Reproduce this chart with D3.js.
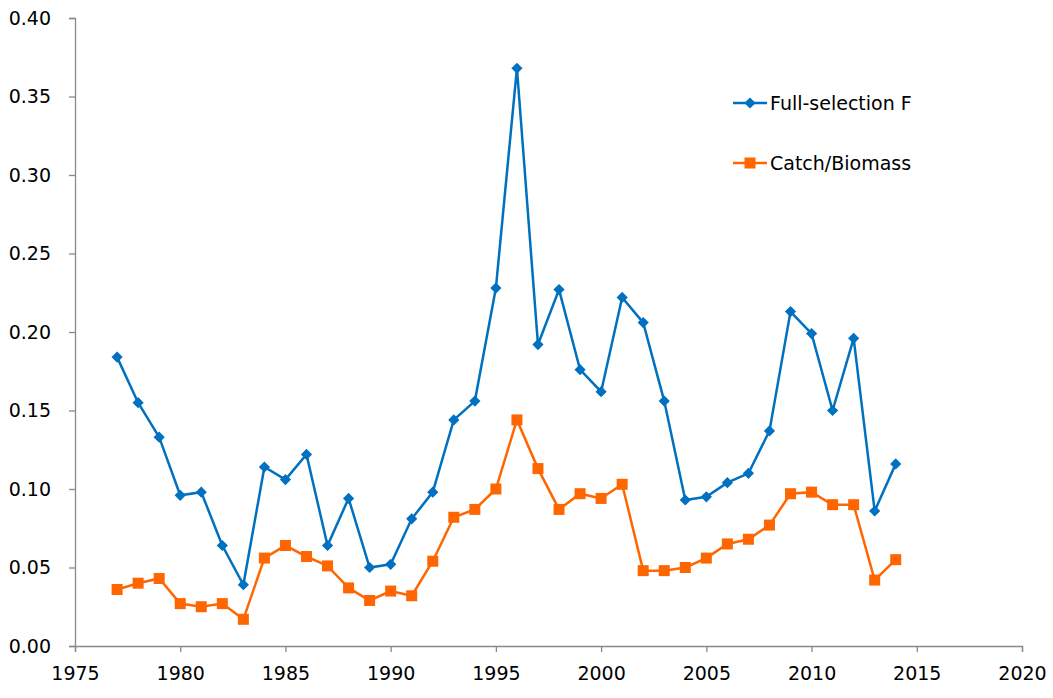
<!doctype html>
<html lang="en">
<head>
  <meta charset="utf-8">
  <title>Full-selection F and Catch/Biomass</title>
  <script src="https://cdnjs.cloudflare.com/ajax/libs/d3/7.8.5/d3.min.js"></script>
  <style>
    body { margin: 0; background: #fff; }
    svg text { font-family: "DejaVu Sans", sans-serif; fill: #000; }
    .axis path, .axis line { stroke: #898989; stroke-width: 1.3; }
  </style>
</head>
<body>
<svg id="chart" width="1053" height="698"></svg>
<script>
  // years and the two series
  var years = [1977,1978,1979,1980,1981,1982,1983,1984,1985,1986,1987,1988,1989,1990,
               1991,1992,1993,1994,1995,1996,1997,1998,1999,2000,2001,2002,2003,2004,
               2005,2006,2007,2008,2009,2010,2011,2012,2013,2014];
  var fullF = [0.184,0.155,0.133,0.096,0.098,0.064,0.039,0.114,0.106,0.122,0.064,0.094,
               0.050,0.052,0.081,0.098,0.144,0.156,0.228,0.368,0.192,0.227,0.176,0.162,
               0.222,0.206,0.156,0.093,0.095,0.104,0.110,0.137,0.213,0.199,0.150,0.196,
               0.086,0.116];
  var catchB = [0.036,0.040,0.043,0.027,0.025,0.027,0.017,0.056,0.064,0.057,0.051,0.037,
                0.029,0.035,0.032,0.054,0.082,0.087,0.100,0.144,0.113,0.087,0.097,0.094,
                0.103,0.048,0.048,0.050,0.056,0.065,0.068,0.077,0.097,0.098,0.090,0.090,
                0.042,0.055];
  var xTicks = [1975,1980,1985,1990,1995,2000,2005,2010,2015,2020];
  var yTicks = [0,0.05,0.10,0.15,0.20,0.25,0.30,0.35,0.40];
  var seriesNames = ["Full-selection F", "Catch/Biomass"];

  var svg = d3.select("#chart");
  var x = d3.scaleLinear().domain([1975, 2020]).range([75, 1022]);
  var y = d3.scaleLinear().domain([0, 0.40]).range([646, 18]);

  var xAxis = svg.append("g").attr("class", "axis")
    .attr("transform", "translate(0,646)")
    .call(d3.axisBottom(x).tickValues(xTicks).tickFormat(d3.format("d")).tickSizeOuter(0).tickSize(6).tickPadding(15));
  xAxis.selectAll("text").style("font-size", "19px");

  var yAxis = svg.append("g").attr("class", "axis")
    .attr("transform", "translate(75,0)")
    .call(d3.axisLeft(y).tickValues(yTicks).tickFormat(d3.format(".2f")).tickSizeOuter(0).tickSize(6).tickPadding(18));
  yAxis.selectAll("text").style("font-size", "19px");

  var blue = "#0070C0", orange = "#FF6600";
  var line = d3.line().x(function(d) { return x(d[0]); }).y(function(d) { return y(d[1]); });

  var fData = years.map(function(yr, i) { return [yr, fullF[i]]; });
  var cData = years.map(function(yr, i) { return [yr, catchB[i]]; });

  svg.append("path").datum(fData).attr("d", line)
    .attr("fill", "none").attr("stroke", blue).attr("stroke-width", 2.5);
  svg.append("path").datum(cData).attr("d", line)
    .attr("fill", "none").attr("stroke", orange).attr("stroke-width", 2.5);

  var diamond = d3.symbol().type(d3.symbolDiamond2).size(80);
  svg.selectAll(".dF").data(fData).enter().append("path")
    .attr("transform", function(d) { return "translate(" + x(d[0]) + "," + y(d[1]) + ")"; })
    .attr("d", diamond).attr("fill", blue);

  svg.selectAll(".dC").data(cData).enter().append("rect")
    .attr("x", function(d) { return x(d[0]) - 5.5; })
    .attr("y", function(d) { return y(d[1]) - 5.5; })
    .attr("width", 11).attr("height", 11).attr("fill", orange);

  // legend
  var legend = svg.append("g").attr("transform", "translate(733,103)");
  [blue, orange].forEach(function(c, i) {
    var g = legend.append("g").attr("transform", "translate(0," + (i * 60) + ")");
    g.append("line").attr("x1", 0).attr("x2", 34).attr("stroke", c).attr("stroke-width", 2.5);
    if (i === 0) {
      g.append("path").attr("transform", "translate(17,0)").attr("d", diamond).attr("fill", c);
    } else {
      g.append("rect").attr("x", 11.5).attr("y", -5.5).attr("width", 11).attr("height", 11).attr("fill", c);
    }
    g.append("text").attr("x", 37).attr("y", 7).style("font-size", "19px").text(seriesNames[i]);
  });
</script>
</body>
</html>
